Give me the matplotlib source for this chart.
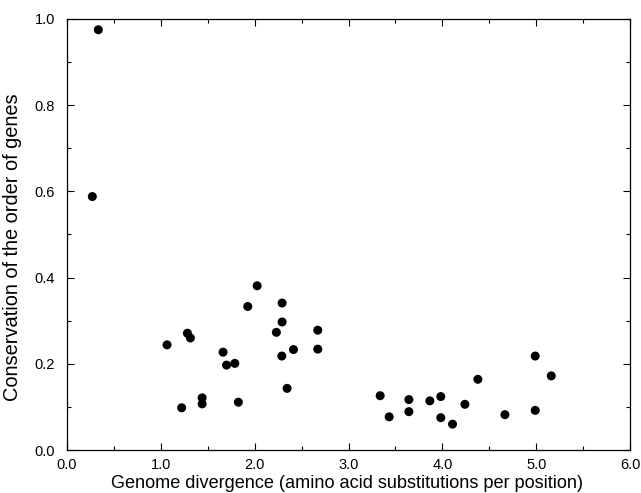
import matplotlib
matplotlib.use("Agg")
import matplotlib.pyplot as plt
from matplotlib.ticker import MultipleLocator, FormatStrFormatter

divergence = [0.334, 0.27, 1.066, 1.283, 1.315, 1.222, 1.44, 1.44, 1.663, 1.70,
              1.788, 1.826, 1.926, 2.026, 2.231, 2.292, 2.292, 2.289, 2.413, 2.345,
              2.672, 2.672, 3.337, 3.433, 3.643, 3.643, 3.866, 3.983, 3.983, 4.108,
              4.24, 4.378, 4.666, 4.989, 4.989, 5.16]
conservation = [0.975, 0.588, 0.244, 0.271, 0.260, 0.098, 0.121, 0.107, 0.227, 0.197,
                0.201, 0.111, 0.333, 0.381, 0.273, 0.341, 0.297, 0.218, 0.233, 0.143,
                0.278, 0.234, 0.126, 0.077, 0.117, 0.089, 0.114, 0.124, 0.075, 0.060,
                0.106, 0.164, 0.082, 0.218, 0.092, 0.172]

plt.rcParams['font.family'] = ['Liberation Sans', 'DejaVu Sans']

fig = plt.figure(figsize=(6.41, 4.93), dpi=100)
ax = fig.add_axes([0.1045, 0.0872, 0.8785, 0.8743])
ax.scatter(divergence, conservation, s=42, color='black', edgecolors='none', zorder=3)

ax.set_xlim(0, 6)
ax.set_ylim(0, 1)
ax.xaxis.set_major_locator(MultipleLocator(1.0))
ax.xaxis.set_minor_locator(MultipleLocator(0.5))
ax.yaxis.set_major_locator(MultipleLocator(0.2))
ax.yaxis.set_minor_locator(MultipleLocator(0.1))
ax.xaxis.set_major_formatter(FormatStrFormatter('%.1f'))
ax.yaxis.set_major_formatter(FormatStrFormatter('%.1f'))
ax.tick_params(which='both', direction='in', top=True, right=True, labelsize=10.5, width=0.8)
ax.tick_params(axis='x', which='major', pad=5.5)
ax.tick_params(axis='y', which='major', pad=8.5)
ax.tick_params(which='major', length=5)
ax.tick_params(which='minor', length=3)
for s in ax.spines.values():
    s.set_linewidth(0.9)

ax.set_xlabel('Genome divergence (amino acid substitutions per position)', fontsize=13.1)
ax.xaxis.set_label_coords(0.498, -0.059)
ax.set_ylabel('Conservation of the order of genes', fontsize=14.4)
ax.yaxis.set_label_coords(-0.08, 0.47)

fig.savefig('out.png', dpi=100)
